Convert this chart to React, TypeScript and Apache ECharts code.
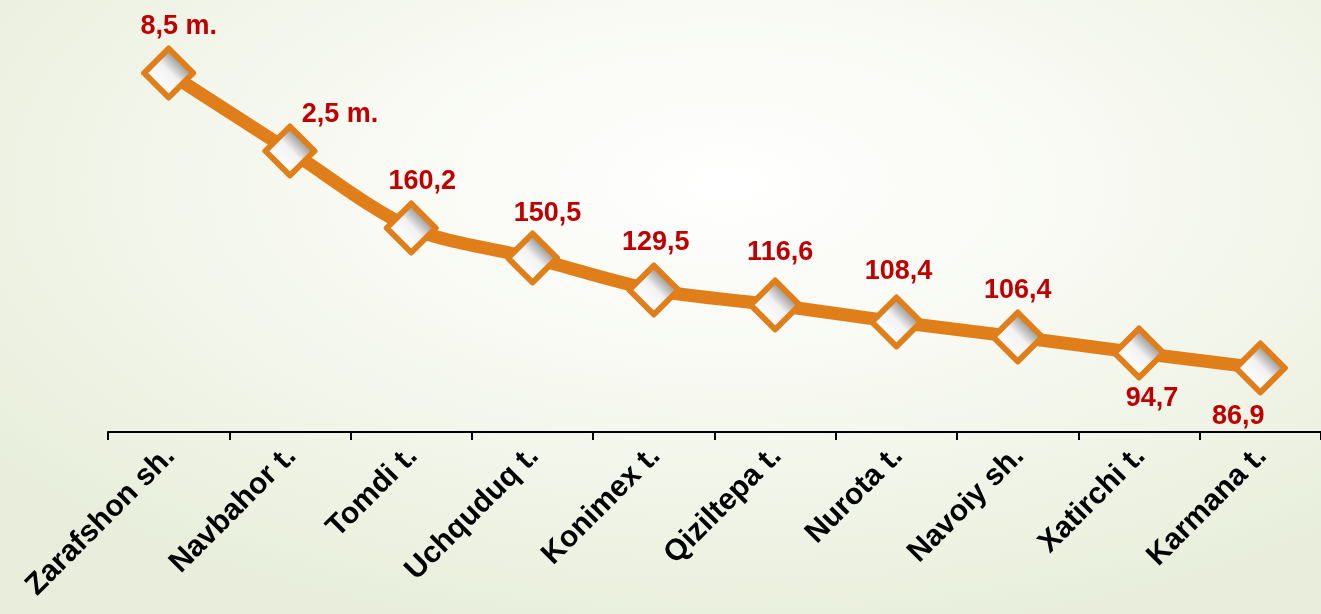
import React, { useEffect, useRef } from "react";
import * as echarts from "echarts";

// Categories (districts / cities)
const categories = [
  "Zarafshon sh.",
  "Navbahor t.",
  "Tomdi t.",
  "Uchquduq t.",
  "Konimex t.",
  "Qiziltepa t.",
  "Nurota t.",
  "Navoiy sh.",
  "Xatirchi t.",
  "Karmana t.",
];

// Printed value labels
const valueLabels = ["8,5 m.", "2,5 m.", "160,2", "150,5", "129,5", "116,6", "108,4", "106,4", "94,7", "86,9"];

// Plotted levels (chart is not drawn to scale)
const plotLevels = [359, 281, 204, 174, 142, 127, 110, 95, 79, 64];

// Label placement relative to marker centre (style only)
const labelShift: [number, number][] = [
  [10, -48],
  [50, -38],
  [11, -48],
  [15, -46],
  [2, -49],
  [5, -54],
  [2, -52],
  [0, -48],
  [13, 44],
  [-22, 47],
];

export default function App() {
  const ref = useRef<HTMLDivElement>(null);

  useEffect(() => {
    if (!ref.current) return;
    const chart = echarts.init(ref.current, undefined, { renderer: "svg" });
    const fill = new echarts.graphic.LinearGradient(0.85, 0.15, 0.25, 0.75, [
      { offset: 0, color: "#6a6a6a" },
      { offset: 0.55, color: "#f2f2f2" },
      { offset: 1, color: "#ffffff" },
    ]);
    chart.setOption({
      animation: false,
      backgroundColor: "transparent",
      grid: { left: 108, right: 0, top: 12, bottom: 182, containLabel: false },
      xAxis: {
        type: "category",
        data: categories,
        boundaryGap: true,
        axisLine: { show: true, lineStyle: { color: "#000", width: 2 } },
        axisTick: { show: true, length: 8, lineStyle: { color: "#000", width: 2 } },
        axisLabel: {
          rotate: 45,
          margin: 18,
          color: "#000",
          fontWeight: "bold",
          fontSize: 30,
          fontFamily: "Liberation Sans, Arial, sans-serif",
          interval: 0,
        },
      },
      yAxis: {
        type: "value",
        min: 0,
        max: 420,
        show: false,
        splitLine: { show: false },
      },
      series: [
        {
          type: "line",
          data: plotLevels.map((v, i) => ({
            value: v,
            label: {
              show: true,
              position: "inside",
              offset: labelShift[i],
              formatter: valueLabels[i],
            },
          })),
          smooth: 0.3,
          symbol: "diamond",
          symbolSize: 49,
          lineStyle: { color: "#E07F1A", width: 13 },
          itemStyle: { color: fill, borderColor: "#E07F1A", borderWidth: 6, borderJoin: "round" },
          label: {
            show: true,
            color: "#C00000",
            fontWeight: "bold",
            fontSize: 27,
            fontFamily: "Liberation Sans, Arial, sans-serif",
            align: "center",
            verticalAlign: "middle",
          },
        },
      ],
    });
    return () => chart.dispose();
  }, []);

  return (
    <div
      style={{
        position: "fixed",
        left: 0,
        top: 0,
        width: 1321,
        height: 614,
        background:
          "radial-gradient(ellipse 70% 75% at 55% 30%, #ffffff 0%, #f7f9f1 45%, #e8eedb 100%)",
      }}
    >
      <div ref={ref} style={{ width: 1321, height: 614 }} />
    </div>
  );
}
